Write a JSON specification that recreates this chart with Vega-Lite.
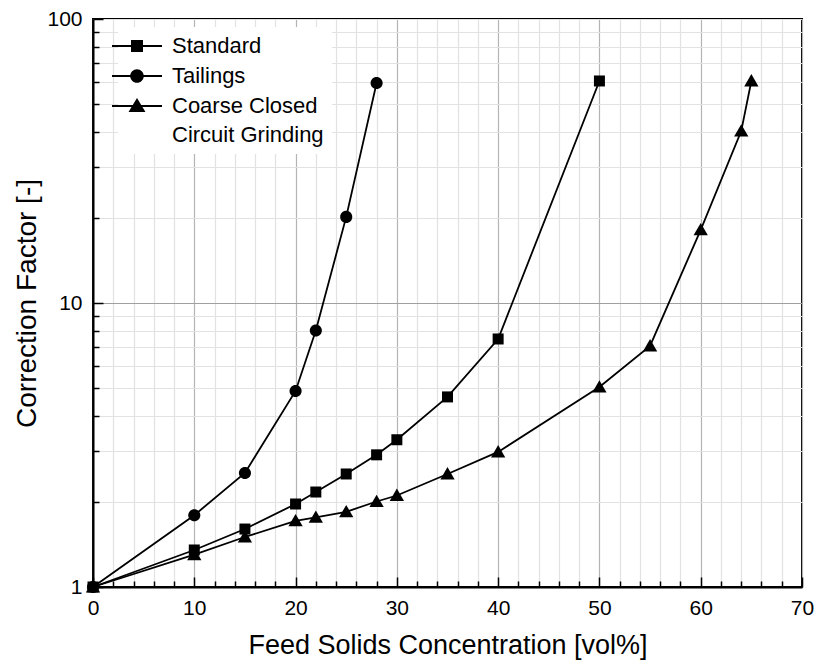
{
  "$schema": "https://vega.github.io/schema/vega-lite/v6.json",
  "width": 709,
  "height": 568,
  "autosize": {"type": "none"},
  "padding": {"left": 93, "top": 19, "right": 14, "bottom": 76},
  "background": "white",
  "config": {
    "font": "Liberation Sans",
    "view": {"stroke": "black", "strokeWidth": 2},
    "style": {"guide-label": {"lineHeight": 29}}
  },
  "data": {
    "values": [
      {"series": "Standard", "c": 0, "f": 1},
      {"series": "Standard", "c": 10, "f": 1.35},
      {"series": "Standard", "c": 15, "f": 1.6},
      {"series": "Standard", "c": 20, "f": 1.96},
      {"series": "Standard", "c": 22, "f": 2.16},
      {"series": "Standard", "c": 25, "f": 2.5},
      {"series": "Standard", "c": 28, "f": 2.92},
      {"series": "Standard", "c": 30, "f": 3.3},
      {"series": "Standard", "c": 35, "f": 4.67},
      {"series": "Standard", "c": 40, "f": 7.47},
      {"series": "Standard", "c": 50, "f": 60.5},
      {"series": "Tailings", "c": 0, "f": 1},
      {"series": "Tailings", "c": 10, "f": 1.79},
      {"series": "Tailings", "c": 15, "f": 2.52},
      {"series": "Tailings", "c": 20, "f": 4.9},
      {"series": "Tailings", "c": 22, "f": 8.0},
      {"series": "Tailings", "c": 25, "f": 20.1},
      {"series": "Tailings", "c": 28, "f": 59.5},
      {"series": "Coarse Closed Circuit Grinding", "c": 0, "f": 1},
      {"series": "Coarse Closed Circuit Grinding", "c": 10, "f": 1.3},
      {"series": "Coarse Closed Circuit Grinding", "c": 15, "f": 1.5},
      {"series": "Coarse Closed Circuit Grinding", "c": 20, "f": 1.71},
      {"series": "Coarse Closed Circuit Grinding", "c": 22, "f": 1.76},
      {"series": "Coarse Closed Circuit Grinding", "c": 25, "f": 1.84},
      {"series": "Coarse Closed Circuit Grinding", "c": 28, "f": 2.0},
      {"series": "Coarse Closed Circuit Grinding", "c": 30, "f": 2.1},
      {"series": "Coarse Closed Circuit Grinding", "c": 35, "f": 2.5},
      {"series": "Coarse Closed Circuit Grinding", "c": 40, "f": 2.99},
      {"series": "Coarse Closed Circuit Grinding", "c": 50, "f": 5.06},
      {"series": "Coarse Closed Circuit Grinding", "c": 55, "f": 7.06},
      {"series": "Coarse Closed Circuit Grinding", "c": 60, "f": 18.1},
      {"series": "Coarse Closed Circuit Grinding", "c": 64, "f": 40.3},
      {"series": "Coarse Closed Circuit Grinding", "c": 65, "f": 60.5}
    ]
  },
  "encoding": {
    "x": {
      "field": "c",
      "type": "quantitative",
      "scale": {"domain": [0, 70], "nice": false, "zero": false},
      "axis": {
        "title": "Feed Solids Concentration [vol%]",
        "titleFont": "Liberation Sans",
        "titleFontSize": 27,
        "titleFontWeight": "normal",
        "titleColor": "black",
        "titlePadding": 10,
        "values": [0,2,4,6,8,10,12,14,16,18,20,22,24,26,28,30,32,34,36,38,40,42,44,46,48,50,52,54,56,58,60,62,64,66,68,70],
        "labelExpr": "datum.value % 10 === 0 ? datum.label : ''",
        "labelFontSize": 21,
        "labelColor": "black",
        "labelPadding": 20,
        "labelFlush": false,
        "labelOverlap": false,
        "domainColor": "black",
        "domainWidth": 2,
        "tickColor": "black",
        "tickWidth": 1.5,
        "tickSize": {"condition": {"test": "datum.value % 10 === 0", "value": -10}, "value": -6},
        "grid": true,
        "gridColor": {"condition": {"test": "datum.value % 10 === 0", "value": "#b4b4b4"}, "value": "#e2e2e2"},
        "gridWidth": 1.2
      }
    },
    "y": {
      "field": "f",
      "type": "quantitative",
      "scale": {"type": "log", "domain": [1, 100], "nice": false},
      "axis": {
        "title": "Correction Factor [-]",
        "titleFont": "Liberation Sans",
        "titleFontSize": 28,
        "titleFontWeight": "normal",
        "titleColor": "black",
        "titlePadding": 5,
        "values": [1,2,3,4,5,6,7,8,9,10,20,30,40,50,60,70,80,90,100],
        "labelExpr": "(datum.value === 1 || datum.value === 10 || datum.value === 100) ? datum.label : ''",
        "format": "d",
        "labelFontSize": 21,
        "labelColor": "black",
        "labelPadding": 21,
        "labelFlush": false,
        "labelOverlap": false,
        "domainColor": "black",
        "domainWidth": 2,
        "tickColor": "black",
        "tickWidth": 1.5,
        "tickSize": {"condition": {"test": "datum.value === 1 || datum.value === 10 || datum.value === 100", "value": -10}, "value": -6},
        "grid": true,
        "gridColor": {"condition": {"test": "datum.value === 10", "value": "#a0a0a0"}, "value": "#e2e2e2"},
        "gridWidth": 1.2
      }
    }
  },
  "layer": [
    {
      "mark": {"type": "line", "color": "black", "strokeWidth": 1.8},
      "encoding": {"detail": {"field": "series"}}
    },
    {
      "mark": {"type": "point", "filled": true, "color": "black", "opacity": 1, "size": 121},
      "encoding": {
        "shape": {
          "field": "series",
          "type": "nominal",
          "scale": {
            "domain": ["Standard", "Tailings", "Coarse Closed Circuit Grinding"],
            "range": ["M-1,-1H1V1H-1Z", "M1.1,0A1.1,1.1 0 1,1 -1.1,0A1.1,1.1 0 1,1 1.1,0Z", "M0,-1.25L1.3,1H-1.3Z"]
          },
          "legend": null
        }
      }
    },
    {
      "mark": {"type": "point", "filled": true, "color": "black", "opacity": 0, "size": 0},
      "encoding": {
        "shape": {
          "field": "series",
          "type": "nominal",
          "scale": {
            "domain": ["Standard", "Tailings", "Coarse Closed Circuit Grinding"],
            "range": [
              "M-2.5,-0.1H2.5V0.1H-2.5ZM-0.6,-0.6H0.6V0.6H-0.6Z",
              "M-2.5,-0.1H2.5V0.1H-2.5ZM0.68,0A0.68,0.68 0 1,1 -0.68,0A0.68,0.68 0 1,1 0.68,0Z",
              "M-2.5,-0.1H2.5V0.1H-2.5ZM0,-0.8L0.85,0.6H-0.85Z"
            ]
          },
          "legend": {
            "title": null,
            "orient": "none",
            "legendX": 25,
            "legendY": 8,
            "fillColor": "white",
            "padding": 8,
            "labelFontSize": 22,
            "labelColor": "black",
            "labelFont": "Liberation Sans",
            "labelLimit": 400,
            "labelOffset": 24,
            "rowPadding": 8,
            "symbolSize": 400,
            "symbolOpacity": 1,
            "symbolFillColor": "black",
            "symbolStrokeColor": "black",
            "symbolStrokeWidth": 0,
            "labelExpr": "datum.label === 'Coarse Closed Circuit Grinding' ? ['Coarse Closed', 'Circuit Grinding'] : datum.label"
          }
        }
      }
    }
  ],
  "resolve": {"scale": {"shape": "independent"}, "legend": {"shape": "independent"}}
}
